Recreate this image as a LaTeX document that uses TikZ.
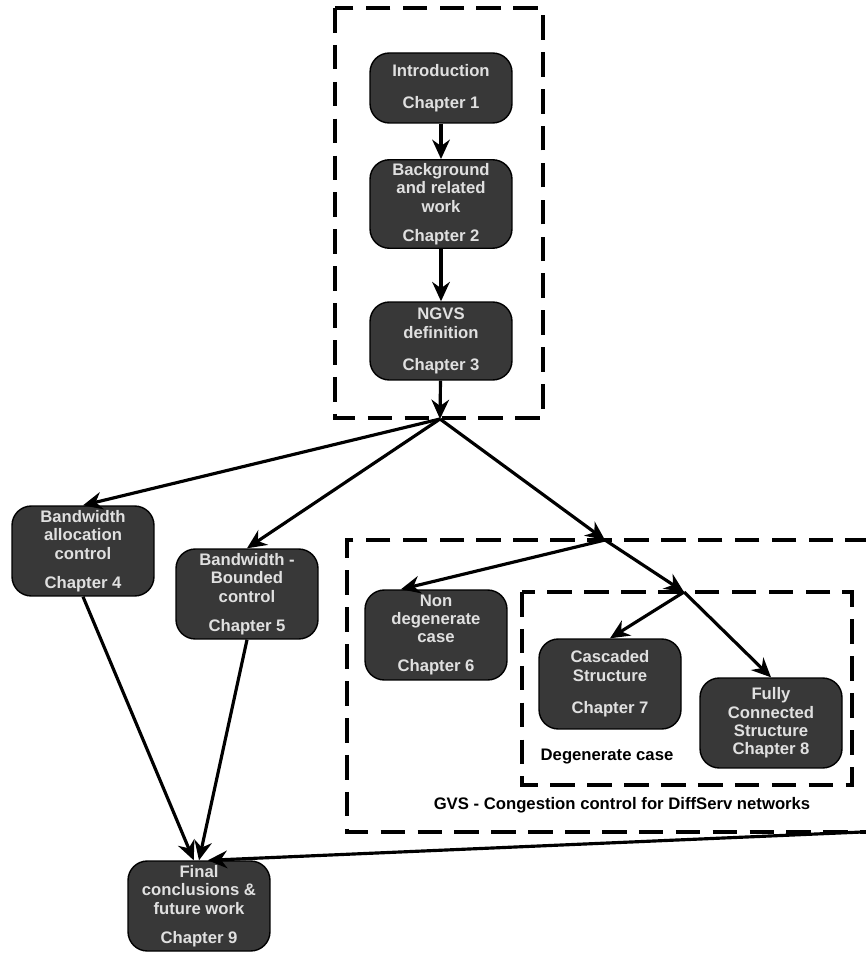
\documentclass[tikz,border=0pt]{standalone}
\usepackage{fontspec}
\setmainfont{Liberation Sans}
\usetikzlibrary{arrows.meta}

\begin{document}
\begin{tikzpicture}[x=0.02cm, y=-0.02cm,
        chapbox/.style={draw=black, thick, fill=black!78, text=black!12,
            rounded corners=11pt, minimum width=2.84cm, minimum height=1.8cm,
            align=center, inner sep=2pt, font=\fontsize{9.5}{10.5}\selectfont\bfseries},
        arr/.style={-{Stealth[length=11pt,width=10pt]}, line width=1.8pt},
        region/.style={line width=1.8pt, dash pattern=on 14pt off 7pt},
        lbl/.style={font=\fontsize{9.5}{11}\selectfont\bfseries}]
    \useasboundingbox (0,0) rectangle (865,955);
    % Below are the dashed regions.
        \draw[region] (335,8) rectangle (543,418);
        \draw[region] (870,540) -- (347,540) -- (347,832) -- (870,832);
        \draw[region] (522,592) rectangle (852,785);
        \node[lbl] (deglbl) at (607,757) {Degenerate case};
        \node[lbl] (gvslbl) at (622,805) {GVS - Congestion control for DiffServ networks};
    % Below nodes are the chapters.
        \node[chapbox, minimum height=1.4cm] (ch1) at (441,88) {Introduction\\[8pt] Chapter 1};
        \node[chapbox, minimum height=1.56cm] (ch2) at (441,204) {Background\\ and related\\ work\\[6pt] Chapter 2};
        \node[chapbox, minimum height=1.56cm] (ch3) at (441,341) {NGVS\\ definition\\[8pt] Chapter 3};
        \node[chapbox] (ch4) at (83,551) {Bandwidth\\ allocation\\ control\\[6pt] Chapter 4};
        \node[chapbox] (ch5) at (247,594) {Bandwidth -\\ Bounded\\ control\\[6pt] Chapter 5};
        \node[chapbox] (ch6) at (436,635) {Non\\ degenerate\\ case\\[6pt] Chapter 6};
        \node[chapbox] (ch7) at (610,684) {Cascaded\\ Structure\\[8pt] Chapter 7};
        \node[chapbox] (ch8) at (771,723) {Fully\\ Connected\\ Structure\\ Chapter 8};
        \node[chapbox] (ch9) at (199,906) {Final\\ conclusions \&\\ future work\\[6pt] Chapter 9};
    % These are the branching points.
        \coordinate (fork1) at (440,419);
        \coordinate (fork2) at (605,540);
        \coordinate (fork3) at (684,592);
        \coordinate (gvsout) at (862,832);
    % This draws the connectors.
        \draw[arr] (ch1) -- (ch2);
        \draw[arr] (ch2) -- (ch3);
        \draw[arr] (ch3) -- (fork1);
        \draw[arr] (fork1) -- (ch4.north);
        \draw[arr] (fork1) -- (ch5.north);
        \draw[arr] (fork1) -- (fork2);
        \draw[arr] (fork2) -- ([xshift=-20]ch6.north);
        \draw[arr] (fork2) -- (fork3);
        \draw[arr] (fork3) -- (ch7.north);
        \draw[arr] (fork3) -- (ch8.north);
        \draw[arr] (ch4.south) -- ([xshift=-3]ch9.north);
        \draw[arr] (ch5.south) -- (ch9.north);
        \draw[arr] (gvsout) -- ([xshift=5]ch9.north);
    \end{tikzpicture}
\end{document}
